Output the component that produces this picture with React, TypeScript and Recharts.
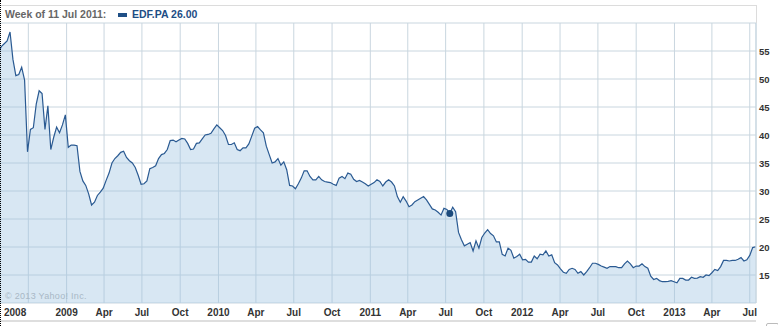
import React from "react";
import {
  AreaChart,
  Area,
  XAxis,
  YAxis,
  CartesianGrid,
  ReferenceDot,
} from "recharts";

// EDF.PA weekly closes, week of 21 Jul 2008 .. week of 15 Jul 2013
const closes = [
  54.6, 55.8, 56.3, 56.8, 58.4, 53.5, 50.6, 50.8, 52.1, 49.8,
  37.0, 41.0, 41.3, 45.5, 47.9, 47.4, 41.0, 45.2, 37.4, 39.6,
  41.4, 40.4, 41.8, 43.6, 37.8, 38.2, 38.2, 38.1, 33.5, 31.8,
  31.0, 29.5, 27.5, 28.0, 29.2, 29.8, 30.5, 31.9, 33.2, 35.0,
  35.8, 36.3, 36.9, 37.1, 36.0, 35.4, 35.0, 34.2, 32.8, 31.2,
  31.3, 31.8, 34.0, 34.2, 34.5, 35.8, 36.5, 36.7, 37.4, 39.0,
  39.1, 38.8, 39.1, 39.4, 39.3, 38.5, 37.4, 37.5, 38.5, 38.6,
  39.3, 40.0, 40.1, 40.3, 41.1, 41.8, 41.3, 40.8, 39.9, 38.3,
  38.3, 38.6, 37.4, 37.2, 37.7, 37.7, 38.4, 39.8, 41.2, 41.5,
  40.9, 40.4, 38.0, 36.5, 35.0, 35.2, 35.8, 34.6, 35.2, 33.8,
  31.0, 30.9, 30.4, 31.3, 32.3, 33.6, 33.6, 32.6, 32.0, 32.0,
  32.6, 32.0, 31.7, 31.6, 31.5, 31.2, 31.0, 32.3, 32.6, 32.2,
  33.2, 33.0, 32.1, 31.7, 31.9, 31.6, 31.3, 30.9, 31.2, 31.5,
  32.0, 31.7, 30.9, 31.6, 32.0, 31.6, 30.9, 29.0, 28.0, 29.0,
  28.2, 27.2, 27.5, 28.1, 28.4, 28.7, 29.0, 28.4, 27.6, 26.8,
  26.6, 26.2, 25.7, 26.9, 26.7, 26.0, 27.1, 26.3, 22.6, 21.3,
  20.2, 20.5, 20.8, 19.3, 21.1, 19.8, 21.7, 22.5, 23.1, 22.4,
  22.0, 20.9, 20.9, 18.7, 18.4, 19.8, 19.4, 18.0, 18.3, 18.7,
  17.7, 17.8, 17.3, 17.3, 18.4, 17.9, 18.7, 18.6, 19.3, 18.4,
  18.6, 17.2, 16.8, 16.1, 15.5, 15.3, 16.0, 16.2, 16.0, 15.3,
  15.6, 15.0, 15.6, 16.3, 17.1, 17.1, 16.9, 16.6, 16.4, 16.2,
  16.5, 16.5, 16.5, 16.3, 16.3, 17.0, 17.5, 17.0, 16.3, 16.6,
  16.6, 17.0, 16.5, 16.2, 14.8, 14.2, 14.4, 14.0, 13.8, 13.8,
  13.85, 14.0, 13.8, 13.6, 14.4, 14.4, 14.1, 14.1, 14.6, 14.4,
  14.45, 14.7, 14.6, 15.0, 14.9, 15.4, 16.0, 15.8, 16.5, 17.6,
  17.6, 17.5, 17.6, 17.6, 17.8, 18.1, 17.5, 17.7, 18.5, 19.9,
  20.05,
];

// days since 21 Jul 2008 of each quarter start
const tickDays = [
  72, 164, 254, 345, 437, 529, 619, 710, 802, 894,
  984, 1075, 1167, 1259, 1350, 1441, 1533, 1625, 1715, 1806,
];
const tickLabels = [
  "2008", "2009", "Apr", "Jul", "Oct", "2010", "Apr", "Jul", "Oct", "2011",
  "Apr", "Jul", "Oct", "2012", "Apr", "Jul", "Oct", "2013", "Apr", "Jul",
];
const priceTicks = [15, 20, 25, 30, 35, 40, 45, 50, 55, 60];

const hoverDay = 1085; // week of 11 Jul 2011
const hoverClose = 26.0;

const data = closes.map((close, i) => ({ day: i * 7, close }));

const FONT = "'Liberation Sans', Arial, sans-serif";

function DateTick(props: any) {
  const { x, payload } = props;
  const i = tickDays.indexOf(payload.value);
  const first = i === 0;
  return (
    <text
      x={first ? 4 : x}
      y={316}
      textAnchor={first ? "start" : "middle"}
      fontSize={10}
      fontWeight="bold"
      fontFamily={FONT}
      fill="#333"
    >
      {tickLabels[i]}
    </text>
  );
}

function PriceTick(props: any) {
  const { y, payload } = props;
  if (payload.value === 60) return <g />;
  return (
    <text
      x={759}
      y={y + 3.5}
      textAnchor="start"
      fontSize={9.5}
      fontWeight="bold"
      fontFamily={FONT}
      fill="#333"
    >
      {payload.value}
    </text>
  );
}

export default function App() {
  return (
    <div
      style={{
        position: "absolute",
        left: 0,
        top: 0,
        width: 778,
        height: 326,
        background: "#fff",
        fontFamily: FONT,
      }}
    >
      <AreaChart
        width={778}
        height={326}
        data={data}
        margin={{ top: 23, right: 0, bottom: 0, left: 0 }}
      >
        <CartesianGrid stroke="#c9d6df" strokeWidth={1} />
        <XAxis
          dataKey="day"
          type="number"
          domain={[3.9, 1821]}
          allowDataOverflow
          ticks={tickDays}
          tick={<DateTick />}
          tickLine={false}
          axisLine={false}
          tickSize={0}
          height={23}
          interval={0}
        />
        <YAxis
          orientation="right"
          type="number"
          domain={[10, 60]}
          ticks={priceTicks}
          tick={<PriceTick />}
          tickLine={false}
          tickSize={0}
          axisLine={{ stroke: "#c5d5e0" }}
          width={22}
          interval={0}
        />
        <Area
          type="linear"
          dataKey="close"
          stroke="#2a5a92"
          strokeWidth={1.2}
          fill="#9dc3e0"
          fillOpacity={0.4}
          isAnimationActive={false}
          dot={false}
          activeDot={false}
        />
        <ReferenceDot
          x={hoverDay}
          y={hoverClose}
          r={3.5}
          fill="#1c4a7c"
          stroke="none"
        />
      </AreaChart>

      {/* frame lines */}
      <div style={{ position: "absolute", left: 0, top: 5, width: 756, height: 1, background: "#dcdcdc" }} />
      <div style={{ position: "absolute", left: 756, top: 5, width: 1, height: 18, background: "#dcdcdc" }} />
      <div style={{ position: "absolute", left: 0, top: 320, width: 756, height: 2, background: "#dedede" }} />
      <div style={{ position: "absolute", left: 0, top: 0, width: 0, height: 326, borderLeft: "1px dotted #000" }} />
      <div style={{ position: "absolute", left: 766, top: 323, width: 11, height: 6, border: "1px solid #bbb", borderRadius: 2 }} />

      {/* header */}
      <div
        style={{
          position: "absolute",
          left: 5,
          top: 8,
          fontSize: 10.5,
          fontWeight: "bold",
          color: "#666",
          whiteSpace: "nowrap",
          lineHeight: "13px",
        }}
      >
        Week of 11 Jul 2011:
      </div>
      <div style={{ position: "absolute", left: 118, top: 13, width: 9, height: 4, background: "#1f4f86" }} />
      <div
        style={{
          position: "absolute",
          left: 132,
          top: 8,
          fontSize: 10.5,
          fontWeight: "bold",
          color: "#1d4d85",
          whiteSpace: "nowrap",
          lineHeight: "13px",
        }}
      >
        EDF.PA 26.00
      </div>

      {/* copyright */}
      <div
        style={{
          position: "absolute",
          left: 5,
          top: 291,
          fontSize: 9,
          color: "#a8b8c6",
          whiteSpace: "nowrap",
          letterSpacing: 0.3,
          lineHeight: "11px",
        }}
      >
        © 2013 Yahoo! Inc.
      </div>
    </div>
  );
}
